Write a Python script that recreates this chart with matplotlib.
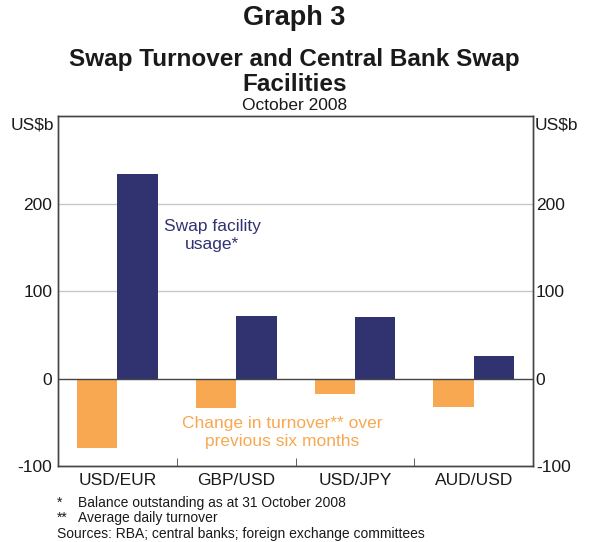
import numpy as np
import matplotlib.pyplot as plt

# data
pairs = ['USD/EUR', 'GBP/USD', 'USD/JPY', 'AUD/USD']
turnover_change = [-79, -34, -18, -33]
swap_usage = [234, 72, 70, 26]
yticks = [-100, 0, 100, 200]

blue = '#313370'
orange = '#F7A851'
txt = '#1a1a1a'
plt.rcParams['font.family'] = ['Liberation Sans', 'DejaVu Sans']

fig = plt.figure(figsize=(5.89, 5.42), dpi=100)
ax = fig.add_axes([0.0985, 0.140, 0.8065, 0.646])

x = np.arange(len(pairs))
w = 0.34
ax.bar(x - w / 2, turnover_change, w, color=orange, zorder=3)
ax.bar(x + w / 2, swap_usage, w, color=blue, zorder=3)

ax.set_xlim(-0.5, len(pairs) - 0.5)
ax.set_ylim(-100, 300)
ax.set_yticks(yticks)
ax.set_yticklabels([str(v) for v in yticks], fontsize=12.5, color=txt)
for v in [100, 200]:
    ax.axhline(v, color='#c8c8c8', lw=1, zorder=1)
ax.axhline(0, color='#444444', lw=1, zorder=4)

# category labels sit in between tick marks at the boundaries
ax.set_xticks(x)
ax.set_xticklabels(pairs, fontsize=12.5, color=txt)
ax.tick_params(axis='x', length=0, pad=5)
ax.set_xticks(np.arange(0.5, len(pairs) - 0.5), minor=True)
ax.tick_params(axis='x', which='minor', direction='in', length=6, color='#444444')
ax.tick_params(axis='y', length=0, pad=4)

ax2 = ax.twinx()
ax2.set_ylim(ax.get_ylim())
ax2.set_yticks(yticks)
ax2.set_yticklabels([str(v) for v in yticks], fontsize=12.5, color=txt)
ax2.tick_params(axis='y', length=0, pad=2)

for a in (ax, ax2):
    for s in a.spines.values():
        s.set_color('#444444')
        s.set_linewidth(1)

ax.text(0.80, 163, 'Swap facility\nusage*', color=blue, fontsize=12.5,
        ha='center', va='center', linespacing=1.25)
ax.text(1.39, -62, 'Change in turnover** over\nprevious six months', color=orange,
        fontsize=12.5, ha='center', va='center', linespacing=1.25)

fig.text(11 / 589, 1 - 125 / 542, 'US$b', fontsize=12.5, ha='left', va='center', color=txt)
fig.text(535 / 589, 1 - 125 / 542, 'US$b', fontsize=12.5, ha='left', va='center', color=txt)

fig.text(0.5, 1 - 18 / 542, 'Graph 3', fontsize=19.5, fontweight='bold', ha='center', va='center', color=txt)
fig.text(0.5, 1 - 72 / 542, 'Swap Turnover and Central Bank Swap\nFacilities', fontsize=17.5,
         fontweight='bold', ha='center', va='center', linespacing=1.12, color=txt)
fig.text(0.5, 1 - 105 / 542, 'October 2008', fontsize=12.5, ha='center', va='center', color=txt)

fig.text(57 / 589, 1 - 503 / 542, '*', fontsize=10, ha='left', va='center', color=txt)
fig.text(78 / 589, 1 - 503 / 542, 'Balance outstanding as at 31 October 2008', fontsize=10,
         ha='left', va='center', color=txt)
fig.text(57 / 589, 1 - 518 / 542, '**', fontsize=10, ha='left', va='center', color=txt)
fig.text(78 / 589, 1 - 518 / 542, 'Average daily turnover', fontsize=10, ha='left', va='center', color=txt)
fig.text(57 / 589, 1 - 534 / 542, 'Sources: RBA; central banks; foreign exchange committees', fontsize=10,
         ha='left', va='center', color=txt)

fig.savefig('out.png', dpi=100)
